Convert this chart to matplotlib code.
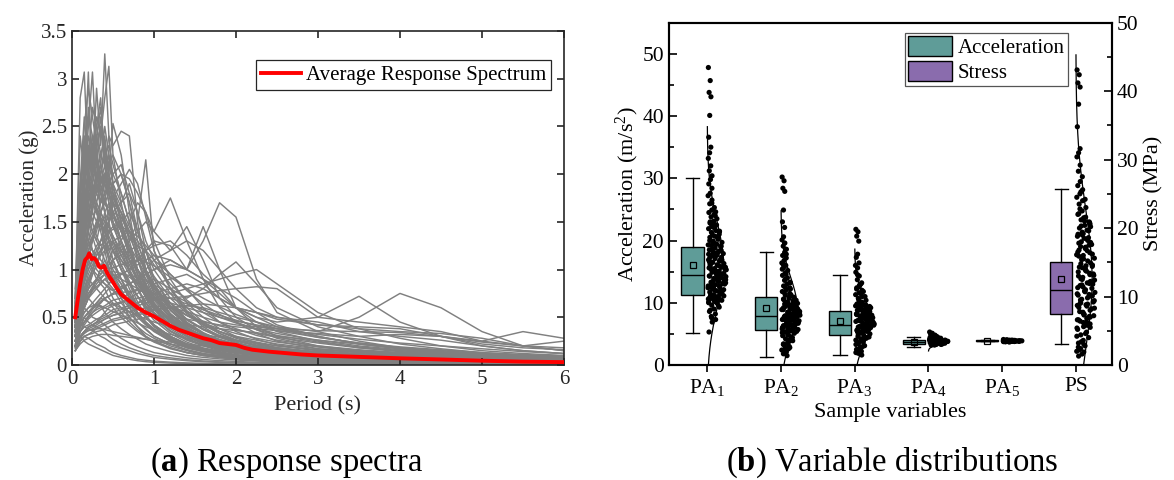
import numpy as np
import matplotlib
matplotlib.use("Agg")
import matplotlib.pyplot as plt
from matplotlib.patches import Patch

plt.rcParams['font.family'] = ['Liberation Serif', 'DejaVu Serif']
plt.rcParams['mathtext.fontset'] = 'custom'
plt.rcParams['mathtext.rm'] = 'Liberation Serif'
plt.rcParams['mathtext.it'] = 'Liberation Serif:italic'
plt.rcParams['mathtext.bf'] = 'Liberation Serif:bold'

# ---------------- (a) response spectra ----------------
periods = [0.04, 0.1, 0.15, 0.2, 0.25, 0.3, 0.35, 0.4, 0.45, 0.5, 0.6, 0.7, 0.8, 0.9, 1.0,
           1.2, 1.4, 1.6, 1.8, 2.0, 2.25, 2.5, 3.0, 3.5, 4.0, 4.5, 5.0, 5.5, 6.0]

spectra = [
    [0.5,1.2,2.1,3.07,1.8,1.6,1.4,1.2,1.0,0.9,0.7,0.5,0.4,0.3,0.25,0.18,0.13,0.1,0.08,0.06,0.05,0.04,0.03,0.02,0.015,0.012,0.01,0.008,0.007],
    [0.6,2.8,3.07,2.0,1.9,2.2,1.5,1.3,1.1,0.95,0.8,0.6,0.45,0.38,0.3,0.22,0.16,0.12,0.1,0.08,0.06,0.05,0.04,0.03,0.02,0.016,0.013,0.01,0.009],
    [0.55,1.5,1.9,2.5,3.07,2.2,1.8,1.6,1.3,1.1,0.9,0.7,0.55,0.45,0.36,0.25,0.18,0.14,0.11,0.09,0.07,0.06,0.045,0.035,0.027,0.021,0.017,0.014,0.012],
    [0.7,1.8,2.4,2.2,2.0,2.9,2.3,3.26,2.4,1.9,1.5,1.1,0.9,0.7,0.55,0.4,0.3,0.22,0.17,0.14,0.11,0.09,0.07,0.05,0.04,0.03,0.025,0.02,0.018],
    [0.6,1.3,1.7,2.0,2.3,2.6,2.4,2.8,3.13,2.2,1.7,1.3,1.0,0.8,0.62,0.45,0.33,0.25,0.19,0.15,0.12,0.1,0.07,0.055,0.045,0.035,0.03,0.025,0.02],
    [0.45,1.1,1.6,1.9,1.7,2.1,2.6,2.3,2.0,2.53,2.2,1.6,1.1,0.85,0.65,0.46,0.34,0.26,0.2,0.16,0.12,0.1,0.075,0.06,0.045,0.036,0.03,0.025,0.021],
    [0.5,1.0,1.3,1.6,1.8,2.0,2.2,2.1,2.4,2.3,2.45,2.4,1.5,1.0,0.75,0.52,0.38,0.29,0.22,0.17,0.13,0.11,0.08,0.06,0.05,0.04,0.032,0.027,0.022],
    [0.4,0.9,1.4,1.7,2.0,2.2,1.9,2.0,1.8,1.7,1.6,1.3,1.5,2.15,1.2,0.8,0.55,0.4,0.3,0.24,0.18,0.14,0.1,0.08,0.06,0.05,0.04,0.033,0.028],
    [0.5,1.4,1.8,2.2,2.0,1.8,1.9,1.7,1.6,1.5,1.3,1.1,0.9,0.75,0.6,0.42,0.3,0.23,0.18,0.14,0.11,0.09,0.065,0.05,0.04,0.03,0.025,0.02,0.017],
    [0.35,0.8,1.1,1.4,1.6,1.5,1.7,1.9,1.8,1.6,1.4,1.2,1.0,0.8,0.65,0.45,0.33,0.25,0.19,0.15,0.12,0.1,0.07,0.055,0.044,0.035,0.029,0.024,0.02],
    [0.6,1.6,2.0,1.8,1.7,1.6,1.5,1.4,1.2,1.1,0.9,0.75,0.6,0.5,0.42,0.3,0.22,0.17,0.13,0.1,0.08,0.065,0.05,0.037,0.03,0.024,0.02,0.016,0.014],
    [0.3,0.7,1.0,1.2,1.3,1.5,1.4,1.6,1.5,1.7,1.6,1.4,1.2,1.0,0.85,0.6,0.44,0.33,0.25,0.2,0.15,0.12,0.09,0.07,0.055,0.044,0.036,0.03,0.025],
    [0.45,1.2,1.5,1.6,1.4,1.3,1.2,1.25,1.1,1.0,0.85,0.7,0.55,0.45,0.38,0.27,0.2,0.15,0.12,0.095,0.075,0.06,0.045,0.035,0.027,0.022,0.018,0.015,0.012],
    [0.5,1.0,1.2,1.4,1.2,1.1,1.0,0.95,0.9,0.85,0.7,0.6,0.5,0.42,0.35,0.25,0.18,0.14,0.11,0.09,0.07,0.055,0.04,0.03,0.025,0.02,0.016,0.013,0.011],
    [0.4,0.9,1.3,1.1,1.0,0.95,0.9,0.85,0.8,0.7,0.6,0.5,0.4,0.33,0.28,0.2,0.15,0.11,0.09,0.07,0.055,0.045,0.033,0.025,0.02,0.016,0.013,0.011,0.009],
    [0.55,1.3,1.7,1.5,1.9,1.7,1.6,1.5,1.3,1.2,1.0,0.8,0.62,0.5,0.4,0.28,0.2,0.15,0.12,0.1,0.08,0.065,0.048,0.036,0.028,0.022,0.018,0.015,0.013],
    [0.65,1.7,2.3,2.6,2.4,2.1,2.0,2.2,2.0,1.8,1.5,1.2,0.95,0.75,0.6,0.42,0.3,0.23,0.18,0.14,0.11,0.09,0.066,0.05,0.04,0.032,0.026,0.022,0.018],
    [0.5,1.1,1.5,1.9,2.2,2.4,2.1,1.9,2.0,1.8,1.6,1.4,1.1,0.9,0.72,0.5,0.36,0.27,0.21,0.17,0.13,0.1,0.075,0.057,0.045,0.036,0.03,0.025,0.021],
    [0.4,0.75,0.95,1.1,1.0,0.9,0.85,0.8,0.7,0.65,0.55,0.45,0.37,0.3,0.25,0.18,0.13,0.1,0.08,0.065,0.05,0.04,0.03,0.022,0.018,0.014,0.012,0.01,0.008],
    [0.3,0.6,0.8,0.9,0.85,0.8,0.75,0.7,0.65,0.6,0.5,0.42,0.35,0.29,0.24,0.17,0.13,0.1,0.08,0.063,0.05,0.04,0.03,0.023,0.018,0.014,0.012,0.01,0.008],
    [0.5,1.9,2.6,2.1,2.3,1.9,1.7,1.8,1.5,1.3,1.05,0.85,0.66,0.52,0.42,0.3,0.22,0.17,0.13,0.1,0.08,0.066,0.05,0.037,0.029,0.023,0.019,0.016,0.013],
    [0.7,2.4,2.0,2.7,2.2,2.5,2.8,2.1,1.8,1.6,1.3,1.0,0.8,0.62,0.5,0.35,0.26,0.2,0.15,0.12,0.095,0.077,0.057,0.043,0.034,0.027,0.022,0.018,0.015],
    [0.45,1.3,1.6,2.0,2.3,1.9,2.1,2.5,2.2,2.0,1.8,1.5,1.2,0.95,0.75,0.53,0.39,0.3,0.23,0.18,0.14,0.11,0.08,0.062,0.049,0.039,0.032,0.027,0.022],
    [0.6,1.5,1.9,2.3,2.1,2.4,2.7,2.2,1.9,1.7,1.45,1.2,0.95,0.75,0.6,0.42,0.31,0.24,0.18,0.14,0.11,0.09,0.066,0.05,0.039,0.031,0.026,0.021,0.018],
    [0.4,1.0,1.4,1.8,1.6,1.9,1.7,2.0,2.2,1.9,1.7,1.9,1.6,1.2,0.9,0.62,0.45,0.34,0.26,0.2,0.16,0.13,0.09,0.07,0.055,0.044,0.036,0.03,0.025],
    [0.55,1.2,1.6,1.4,1.7,2.0,1.8,1.6,1.7,1.5,1.3,1.1,0.9,0.72,0.58,0.41,0.3,0.23,0.18,0.14,0.11,0.09,0.065,0.05,0.04,0.032,0.026,0.021,0.018],
    [0.35,0.9,1.2,1.5,1.4,1.3,1.5,1.3,1.2,1.3,1.1,0.95,0.8,0.65,0.53,0.38,0.28,0.21,0.16,0.13,0.1,0.08,0.06,0.045,0.035,0.028,0.023,0.019,0.016],
    [0.5,1.1,1.4,1.3,1.2,1.15,1.2,1.1,1.0,0.95,0.85,0.72,0.6,0.5,0.42,0.3,0.22,0.17,0.13,0.1,0.08,0.065,0.048,0.036,0.028,0.022,0.018,0.015,0.012],
    [0.45,0.95,1.15,1.25,1.35,1.2,1.1,1.05,1.0,0.92,0.78,0.65,0.54,0.45,0.37,0.27,0.2,0.15,0.12,0.095,0.075,0.06,0.044,0.033,0.026,0.021,0.017,0.014,0.012],
    [0.3,0.65,0.85,1.0,1.1,1.0,0.95,1.0,0.9,0.85,0.75,0.63,0.52,0.43,0.36,0.26,0.19,0.15,0.12,0.094,0.074,0.06,0.044,0.033,0.026,0.021,0.017,0.014,0.012],
    [0.55,1.4,1.8,1.6,1.5,1.35,1.25,1.3,1.15,1.05,0.9,0.75,0.62,0.5,0.41,0.29,0.21,0.16,0.13,0.1,0.08,0.064,0.047,0.036,0.028,0.022,0.018,0.015,0.013],
    [0.4,0.8,1.05,1.3,1.5,1.65,1.5,1.4,1.45,1.35,1.2,1.05,0.9,0.75,0.62,0.45,0.33,0.25,0.19,0.15,0.12,0.1,0.072,0.055,0.043,0.034,0.028,0.023,0.02],
    [0.8,1.6,1.4,1.3,1.2,1.1,1.0,0.95,0.85,0.8,0.65,0.55,0.45,0.37,0.3,0.22,0.16,0.12,0.095,0.075,0.06,0.048,0.035,0.026,0.02,0.016,0.013,0.011,0.009],
    [0.2,0.45,0.65,0.8,0.95,1.05,1.2,1.35,1.5,1.6,1.55,1.4,1.2,1.0,0.82,0.58,0.43,0.33,0.25,0.2,0.16,0.13,0.094,0.072,0.056,0.045,0.037,0.031,0.026],
    [0.35,0.7,0.9,1.1,1.3,1.45,1.6,1.75,1.9,2.0,2.1,1.8,1.4,1.1,0.85,0.58,0.42,0.32,0.24,0.19,0.15,0.12,0.088,0.067,0.052,0.042,0.034,0.028,0.024],
    [0.25,0.5,0.7,0.85,1.0,1.15,1.3,1.45,1.6,1.75,1.9,2.05,1.9,1.55,1.2,0.8,0.57,0.43,0.33,0.26,0.2,0.16,0.11,0.085,0.066,0.053,0.043,0.036,0.03],
    [0.5,1.2,1.5,1.7,1.9,1.8,2.0,2.3,2.1,1.9,2.0,1.7,1.3,1.0,0.78,0.54,0.4,0.3,0.23,0.18,0.14,0.11,0.08,0.062,0.048,0.038,0.031,0.026,0.022],
    [0.6,1.35,1.7,1.95,1.8,1.65,1.55,1.45,1.35,1.25,1.05,0.88,0.72,0.58,0.47,0.33,0.24,0.18,0.14,0.11,0.087,0.07,0.051,0.039,0.03,0.024,0.02,0.016,0.014],
    [0.2,0.3,0.25,0.22,0.2,0.18,0.16,0.14,0.12,0.1,0.08,0.06,0.045,0.035,0.028,0.02,0.015,0.011,0.009,0.007,0.006,0.005,0.004,0.003,0.002,0.002,0.002,0.001,0.001],
    [0.15,0.25,0.3,0.28,0.25,0.22,0.2,0.18,0.15,0.13,0.1,0.08,0.06,0.05,0.04,0.03,0.022,0.017,0.013,0.01,0.008,0.006,0.005,0.004,0.003,0.002,0.002,0.002,0.001],
    [0.25,0.4,0.5,0.45,0.42,0.4,0.38,0.35,0.3,0.27,0.22,0.18,0.15,0.12,0.1,0.075,0.055,0.042,0.033,0.026,0.02,0.016,0.012,0.009,0.007,0.006,0.005,0.004,0.003],
    [0.3,0.55,0.6,0.55,0.5,0.48,0.45,0.42,0.38,0.34,0.28,0.23,0.19,0.16,0.13,0.1,0.075,0.058,0.046,0.037,0.029,0.023,0.017,0.013,0.01,0.008,0.007,0.006,0.005],
    [0.35,0.6,0.75,0.7,0.65,0.6,0.62,0.55,0.5,0.45,0.38,0.32,0.27,0.22,0.19,0.14,0.1,0.08,0.064,0.052,0.041,0.033,0.024,0.018,0.014,0.011,0.009,0.008,0.007],
    [0.22,0.35,0.4,0.38,0.36,0.33,0.3,0.28,0.25,0.22,0.18,0.15,0.12,0.1,0.08,0.06,0.045,0.034,0.027,0.021,0.017,0.013,0.01,0.008,0.006,0.005,0.004,0.003,0.003],
    [0.4,0.7,0.9,1.0,1.1,1.2,1.3,1.4,1.5,1.6,1.7,1.8,1.6,1.3,1.1,0.8,0.6,0.45,0.35,0.28,0.22,0.18,0.13,0.1,0.08,0.065,0.055,0.045,0.04],
    [0.35,0.6,0.8,0.9,1.0,1.1,1.0,1.2,1.3,1.2,1.3,1.5,1.7,1.6,1.4,1.75,1.3,0.9,0.6,0.45,0.33,0.25,0.17,0.13,0.1,0.08,0.065,0.055,0.045],
    [0.3,0.5,0.6,0.7,0.8,0.9,1.0,1.1,1.0,1.1,1.2,1.3,1.4,1.5,1.4,1.2,1.45,1.1,0.7,0.5,0.37,0.28,0.19,0.14,0.11,0.09,0.072,0.06,0.05],
    [0.3,0.55,0.7,0.8,0.85,0.9,1.0,0.95,1.1,1.2,1.1,1.0,1.1,1.2,1.3,1.25,1.0,1.45,1.0,0.6,0.4,0.3,0.2,0.15,0.12,0.09,0.075,0.06,0.05],
    [0.25,0.45,0.55,0.6,0.65,0.7,0.75,0.8,0.85,0.9,0.95,1.0,1.1,1.2,1.25,1.3,1.15,0.95,0.8,0.6,0.45,0.35,0.25,0.18,0.14,0.11,0.09,0.075,0.065],
    [0.35,0.6,0.75,0.85,0.95,1.05,1.15,1.3,1.4,1.45,1.5,1.6,1.4,1.2,1.0,0.75,0.55,0.42,0.33,0.26,0.2,0.16,0.12,0.09,0.07,0.056,0.046,0.038,0.032],
    [0.3,0.5,0.65,0.75,0.8,0.9,0.95,1.0,1.05,1.1,1.15,1.2,1.25,1.2,1.1,0.95,0.8,0.6,0.45,0.35,0.27,0.21,0.15,0.11,0.09,0.07,0.058,0.048,0.04],
    [0.4,0.8,1.0,1.2,1.3,1.4,1.6,1.7,1.8,1.9,2.0,1.95,1.8,1.6,1.3,0.9,0.65,0.5,0.38,0.3,0.23,0.18,0.13,0.1,0.08,0.062,0.05,0.042,0.036],
    [0.3,0.5,0.6,0.7,0.75,0.8,0.85,0.9,0.85,0.9,0.95,1.0,1.05,1.1,1.15,1.1,1.0,0.9,0.8,0.7,0.55,0.42,0.3,0.22,0.17,0.13,0.1,0.085,0.07],
    [0.25,0.4,0.5,0.55,0.6,0.65,0.7,0.75,0.8,0.78,0.82,0.85,0.9,0.95,1.0,1.05,1.0,0.9,0.75,0.6,0.5,0.4,0.3,0.22,0.17,0.13,0.1,0.08,0.065],
    [0.5,1.0,1.3,1.6,1.8,1.7,1.9,2.0,2.1,2.2,2.0,1.7,1.4,1.1,0.9,0.65,0.48,0.37,0.29,0.23,0.18,0.14,0.1,0.076,0.06,0.048,0.04,0.033,0.028],
    [0.3,0.45,0.5,0.55,0.6,0.62,0.65,0.7,0.72,0.75,0.8,0.85,0.9,0.95,1.0,1.1,1.0,1.3,1.7,1.55,0.9,0.55,0.35,0.25,0.18,0.14,0.11,0.09,0.07],
    [0.25,0.4,0.45,0.5,0.55,0.58,0.6,0.62,0.65,0.68,0.7,0.75,0.8,0.85,0.9,0.8,0.7,0.8,0.95,1.08,0.85,0.6,0.4,0.3,0.22,0.17,0.13,0.1,0.08],
    [0.2,0.35,0.4,0.42,0.45,0.48,0.5,0.52,0.55,0.58,0.6,0.62,0.65,0.68,0.7,0.75,0.8,0.85,0.9,0.95,1.0,0.85,0.55,0.38,0.28,0.2,0.15,0.12,0.1],
    [0.2,0.3,0.35,0.4,0.42,0.45,0.48,0.5,0.52,0.55,0.58,0.6,0.62,0.65,0.68,0.7,0.72,0.75,0.78,0.8,0.82,0.8,0.5,0.72,0.45,0.3,0.2,0.15,0.12],
    [0.15,0.25,0.3,0.32,0.35,0.38,0.4,0.42,0.44,0.46,0.48,0.5,0.52,0.55,0.58,0.6,0.62,0.6,0.55,0.5,0.45,0.4,0.35,0.5,0.75,0.6,0.35,0.2,0.15],
    [0.15,0.25,0.3,0.32,0.33,0.35,0.36,0.38,0.4,0.42,0.44,0.46,0.48,0.5,0.52,0.5,0.48,0.45,0.42,0.4,0.38,0.36,0.33,0.3,0.32,0.3,0.25,0.35,0.28],
    [0.2,0.3,0.35,0.4,0.42,0.45,0.5,0.55,0.6,0.62,0.65,0.7,0.75,0.8,0.85,0.9,0.95,0.85,0.7,0.6,0.5,0.45,0.5,0.45,0.4,0.35,0.25,0.2,0.25],
    [0.25,0.4,0.45,0.5,0.55,0.6,0.65,0.7,0.72,0.75,0.8,0.85,0.9,1.0,1.1,1.2,1.3,1.2,1.0,0.8,0.6,0.5,0.45,0.35,0.3,0.26,0.2,0.15,0.12],
    [0.2,0.3,0.35,0.38,0.4,0.42,0.45,0.48,0.5,0.52,0.55,0.6,0.65,0.7,0.75,0.8,0.85,0.8,0.7,0.6,0.55,0.5,0.42,0.38,0.35,0.33,0.28,0.2,0.15],
    [0.18,0.28,0.33,0.36,0.38,0.4,0.42,0.44,0.46,0.48,0.5,0.52,0.54,0.56,0.58,0.6,0.62,0.64,0.62,0.6,0.55,0.48,0.42,0.4,0.38,0.3,0.22,0.18,0.16],
    [0.25,0.4,0.5,0.55,0.6,0.65,0.7,0.68,0.66,0.64,0.6,0.56,0.52,0.48,0.45,0.4,0.36,0.32,0.29,0.26,0.23,0.2,0.16,0.13,0.11,0.09,0.075,0.065,0.055],
    [0.3,0.55,0.7,0.8,0.85,0.9,0.88,0.85,0.82,0.78,0.72,0.66,0.6,0.55,0.5,0.45,0.42,0.4,0.38,0.36,0.34,0.3,0.26,0.22,0.18,0.15,0.12,0.1,0.08],
    [0.2,0.35,0.42,0.48,0.52,0.55,0.58,0.6,0.62,0.64,0.66,0.68,0.7,0.72,0.7,0.65,0.6,0.55,0.5,0.46,0.42,0.38,0.32,0.27,0.23,0.2,0.17,0.14,0.12],
    [0.18,0.3,0.35,0.4,0.42,0.44,0.46,0.48,0.5,0.52,0.54,0.56,0.58,0.6,0.62,0.6,0.56,0.5,0.45,0.42,0.4,0.38,0.36,0.35,0.34,0.3,0.24,0.2,0.18],
    [0.35,0.8,1.1,1.3,1.4,1.5,1.45,1.4,1.3,1.2,1.0,0.85,0.72,0.62,0.54,0.42,0.34,0.28,0.24,0.2,0.17,0.15,0.12,0.1,0.085,0.07,0.06,0.05,0.045],
    [0.45,1.0,1.3,1.6,1.7,1.6,1.5,1.55,1.45,1.35,1.15,0.98,0.84,0.72,0.62,0.48,0.38,0.31,0.26,0.22,0.19,0.16,0.13,0.11,0.09,0.075,0.065,0.055,0.05],
    [0.3,0.6,0.8,0.95,1.05,1.15,1.2,1.25,1.3,1.28,1.2,1.1,1.0,0.9,0.8,0.65,0.52,0.42,0.35,0.3,0.26,0.22,0.17,0.14,0.12,0.1,0.085,0.075,0.065],
    [0.25,0.5,0.65,0.75,0.82,0.88,0.92,0.95,0.97,0.98,0.96,0.92,0.86,0.8,0.74,0.62,0.52,0.44,0.38,0.33,0.28,0.24,0.19,0.15,0.13,0.11,0.09,0.08,0.07],
    [0.55,1.5,2.2,2.4,2.0,2.3,1.9,2.1,1.8,1.6,1.3,1.1,0.9,0.75,0.63,0.46,0.35,0.28,0.23,0.19,0.16,0.13,0.1,0.08,0.066,0.055,0.046,0.04,0.035],
    [0.6,1.7,2.5,2.9,2.6,2.3,2.5,2.1,1.9,1.7,1.4,1.15,0.95,0.78,0.65,0.47,0.36,0.28,0.22,0.18,0.15,0.12,0.09,0.072,0.058,0.048,0.04,0.034,0.029],
    [0.5,1.3,1.9,2.2,2.7,2.5,2.2,2.4,2.0,1.8,1.5,1.25,1.0,0.82,0.68,0.49,0.37,0.29,0.23,0.19,0.15,0.12,0.09,0.07,0.056,0.046,0.038,0.032,0.027],
    [0.4,1.0,1.5,1.8,2.1,2.3,2.5,2.2,2.3,2.1,1.8,1.5,1.2,0.98,0.8,0.57,0.42,0.33,0.26,0.21,0.17,0.14,0.1,0.08,0.064,0.052,0.043,0.036,0.031],
    [0.45,1.2,1.7,2.0,1.8,1.9,2.1,1.9,1.7,1.6,1.4,1.2,1.0,0.84,0.7,0.5,0.38,0.3,0.24,0.2,0.16,0.13,0.1,0.078,0.062,0.05,0.042,0.035,0.03],
    [0.3,0.75,1.0,1.2,1.35,1.5,1.6,1.7,1.65,1.55,1.4,1.25,1.1,0.95,0.82,0.62,0.48,0.38,0.31,0.26,0.21,0.18,0.14,0.11,0.09,0.075,0.063,0.054,0.047],
    [0.2,0.3,0.35,0.36,0.37,0.38,0.38,0.37,0.36,0.35,0.33,0.31,0.29,0.27,0.25,0.22,0.19,0.17,0.15,0.13,0.12,0.1,0.085,0.07,0.06,0.05,0.044,0.039,0.035],
    [0.3,0.5,0.55,0.6,0.62,0.63,0.62,0.6,0.58,0.56,0.52,0.48,0.44,0.4,0.37,0.32,0.28,0.25,0.22,0.2,0.18,0.16,0.13,0.11,0.095,0.082,0.072,0.064,0.057],
    [0.4,0.9,1.1,1.2,1.15,1.1,1.05,1.0,0.98,0.95,0.9,0.85,0.8,0.75,0.7,0.6,0.52,0.46,0.41,0.37,0.33,0.29,0.23,0.18,0.15,0.12,0.1,0.085,0.075],
    [0.35,0.7,0.9,1.05,1.15,1.25,1.3,1.35,1.4,1.42,1.45,1.4,1.3,1.18,1.05,0.85,0.68,0.55,0.45,0.38,0.31,0.26,0.2,0.16,0.13,0.11,0.09,0.078,0.068],
    [0.5,1.1,1.4,1.6,1.75,1.85,1.95,2.0,1.95,1.85,1.65,1.45,1.25,1.08,0.93,0.7,0.54,0.43,0.35,0.29,0.24,0.2,0.15,0.12,0.1,0.082,0.07,0.06,0.052],
    [0.7,1.9,2.3,2.0,1.7,1.6,1.5,1.4,1.3,1.2,1.0,0.85,0.72,0.6,0.5,0.36,0.27,0.21,0.17,0.14,0.11,0.09,0.07,0.055,0.045,0.037,0.031,0.026,0.022],
    [0.65,1.6,2.0,2.3,2.1,1.9,1.8,1.7,1.6,1.45,1.25,1.05,0.88,0.74,0.62,0.45,0.34,0.27,0.22,0.18,0.15,0.12,0.09,0.072,0.058,0.048,0.04,0.034,0.029],
    [0.4,0.85,1.2,1.45,1.65,1.8,1.7,1.8,1.9,1.75,1.55,1.35,1.15,0.98,0.84,0.62,0.47,0.37,0.3,0.25,0.2,0.17,0.13,0.1,0.082,0.067,0.056,0.047,0.04],
    [0.3,0.55,0.75,0.9,1.0,1.1,1.15,1.2,1.25,1.3,1.35,1.4,1.35,1.25,1.15,0.95,0.78,0.64,0.53,0.45,0.37,0.31,0.24,0.19,0.15,0.12,0.1,0.085,0.075],
    [0.25,0.45,0.6,0.7,0.78,0.85,0.9,0.95,1.0,1.02,1.05,1.08,1.1,1.08,1.04,0.92,0.8,0.7,0.61,0.53,0.45,0.38,0.29,0.23,0.18,0.15,0.12,0.1,0.088],
    [0.2,0.35,0.45,0.52,0.58,0.63,0.67,0.7,0.72,0.74,0.76,0.77,0.78,0.77,0.75,0.7,0.64,0.58,0.52,0.47,0.41,0.36,0.29,0.23,0.19,0.16,0.13,0.11,0.095],
    [0.15,0.22,0.26,0.28,0.3,0.31,0.32,0.32,0.32,0.31,0.3,0.29,0.28,0.27,0.26,0.24,0.22,0.2,0.18,0.17,0.15,0.14,0.12,0.1,0.09,0.08,0.07,0.062,0.055],
    [0.5,1.2,1.6,1.9,2.2,2.0,1.8,2.0,1.7,1.5,1.2,0.98,0.8,0.66,0.55,0.4,0.3,0.24,0.19,0.16,0.13,0.11,0.08,0.064,0.052,0.042,0.035,0.03,0.026],
    [0.45,1.0,1.35,1.7,1.5,1.7,1.6,1.5,1.4,1.3,1.15,1.0,0.85,0.72,0.62,0.46,0.35,0.28,0.23,0.19,0.16,0.13,0.1,0.08,0.065,0.054,0.045,0.038,0.033],
    [0.35,0.55,0.65,0.72,0.78,0.82,0.86,0.9,0.92,0.94,0.95,0.94,0.92,0.88,0.84,0.75,0.66,0.58,0.5,0.44,0.38,0.33,0.26,0.2,0.16,0.13,0.11,0.09,0.08],
    [0.55,1.3,1.7,2.1,2.4,2.2,2.0,1.8,1.9,1.7,1.45,1.2,1.0,0.85,0.72,0.53,0.41,0.33,0.27,0.22,0.18,0.15,0.11,0.09,0.072,0.06,0.05,0.043,0.037],
]

avg_periods = [0.04,0.07,0.1,0.13,0.16,0.19,0.21,0.24,0.27,0.3,0.33,0.36,0.39,0.42,0.46,0.5,0.55,0.6,0.7,0.8,
               0.9,1.0,1.1,1.2,1.3,1.4,1.5,1.6,1.7,1.8,1.9,2.0,2.1,2.2,2.4,2.6,2.8,3.0,3.5,4.0,4.5,5.0,5.5,6.0]
avg_values = [0.50,0.68,0.85,1.00,1.10,1.13,1.17,1.11,1.12,1.09,1.03,1.02,1.04,0.98,0.92,0.87,0.80,0.74,0.67,0.60,
              0.55,0.51,0.46,0.41,0.37,0.34,0.31,0.28,0.26,0.23,0.22,0.21,0.18,0.16,0.14,0.125,0.11,0.10,0.085,0.07,
              0.058,0.045,0.035,0.03]

# ---------------- (b) variable distributions ----------------
var_labels = ['PA$_1$', 'PA$_2$', 'PA$_3$', 'PA$_4$', 'PA$_5$', 'PS']

pa1 = [47.8,45.7,43.8,43.1,40.1,36.6,35.0,34.1,33.2,32.0,31.2,30.4,29.8,29.1,28.4,27.6,27.2,26.5,25.9,25.3,
       24.9,24.5,24.2,23.8,23.5,23.1,22.8,22.5,22.2,21.9,21.6,21.3,21.0,20.7,20.5,20.2,19.9,19.7,19.4,19.2,
       19.0,18.8,18.5,18.3,18.1,17.9,17.7,17.5,17.3,17.1,16.9,16.7,16.5,16.3,16.1,15.9,15.7,15.5,15.3,15.1,
       14.9,14.7,14.5,14.3,14.1,13.9,13.7,13.5,13.3,13.1,12.9,12.7,12.5,12.3,12.1,11.9,11.7,11.5,11.3,11.1,
       10.9,10.7,10.5,10.3,10.1,9.9,9.6,9.3,9.0,8.6,8.2,7.8,7.3,6.9,5.3,
       18.4,17.6,16.6,15.8,15.0,14.2,13.4,12.6,11.8,11.0,10.6,10.2,12.2,13.0,14.8,16.2,17.0,19.6,21.4,22.6,
       12.8,11.4,10.8,15.6,14.0,13.6,
       10.4,10.9,11.2,11.6,12.0,12.4,12.7,13.1,13.5,13.9,14.3,14.6,15.2,15.7,16.0,16.4,16.9,17.4,17.8,18.2,
       18.6,19.1,19.5,20.0,20.4,20.9,21.5,22.0,23.0,24.0,10.2,10.7,11.5,12.3,13.2,14.4,15.4,16.7,18.0,19.3,
       11.0,12.5,13.8,15.0,17.2,20.6,22.3,24.6,26.0,8.8,9.5,7.6,10.0,11.8]
pa2 = [30.2,29.6,28.4,27.9,24.9,23.0,22.1,20.6,20.1,19.6,19.1,18.6,18.1,17.6,17.2,16.8,16.4,16.0,15.6,15.2,
       14.8,14.4,14.0,13.6,13.3,13.0,12.7,12.4,12.1,11.8,11.5,11.2,10.9,10.7,10.5,10.3,10.1,9.9,9.7,9.5,
       9.3,9.1,8.9,8.7,8.5,8.3,8.1,7.9,7.7,7.5,7.3,7.1,6.9,6.7,6.5,6.3,6.1,5.9,5.7,5.5,
       5.3,5.1,4.9,4.7,4.5,4.2,3.9,3.6,3.3,3.0,2.7,2.4,2.1,1.8,1.5,
       9.6,9.2,8.8,8.4,8.0,7.6,7.2,6.8,6.4,6.0,5.6,9.8,9.0,8.2,7.4,6.6,5.8,10.4,11.0,11.6,
       12.2,13.8,15.4,8.6,7.0,5.4,4.0,3.4,2.6,
       5.5,5.8,6.2,6.5,6.9,7.2,7.6,7.9,8.3,8.6,9.0,9.4,9.7,5.6,6.0,6.4,6.8,7.1,7.5,7.8,
       8.2,8.5,8.9,9.3,9.6,9.9,5.7,6.3,7.0,7.7,8.4,9.1,9.8,4.4,4.8,5.2,3.8,3.2,2.8,2.3,
       10.6,11.3,12.5,13.2,14.6,16.2,17.8]
pa3 = [21.8,21.4,20.7,19.9,17.8,17.3,16.4,15.6,14.9,14.3,13.7,13.2,12.8,12.4,12.0,11.6,11.3,11.0,10.7,10.4,
       10.1,9.8,9.6,9.4,9.2,9.0,8.8,8.6,8.4,8.2,8.0,7.8,7.6,7.4,7.2,7.0,6.8,6.6,6.4,6.2,
       6.0,5.8,5.6,5.4,5.2,5.0,4.8,4.6,4.4,4.2,4.0,3.7,3.4,3.1,2.8,2.5,2.2,1.9,1.6,
       9.7,9.3,8.9,8.5,8.1,7.7,7.3,6.9,6.5,6.1,5.7,5.3,9.5,8.7,7.9,7.1,6.3,5.5,8.3,7.5,
       6.7,5.9,4.9,4.3,3.9,3.3,2.9,10.6,11.8,12.6,
       5.3,5.7,6.0,6.4,6.8,7.1,7.5,7.9,8.2,8.6,9.0,9.4,5.5,5.9,6.3,6.6,7.0,7.3,7.7,8.0,
       8.4,8.8,9.2,9.6,4.5,4.1,3.6,3.1,2.6,2.0,1.8,10.3,11.0,11.5,12.2,13.0,14.5,16.0]
pa4 = [5.3,5.1,4.9,4.8,4.7,4.6,4.5,4.5,4.4,4.4,4.3,4.3,4.2,4.2,4.1,4.1,4.0,4.0,4.0,3.9,
       3.9,3.9,3.8,3.8,3.8,3.7,3.7,3.7,3.6,3.6,3.6,3.5,3.5,3.5,3.4,3.4,3.3,3.3,3.2,3.2,
       4.6,4.2,3.9,3.6,3.4,4.0,3.8,3.5,4.3,3.7,4.1,3.9,3.6,3.4,4.4,3.7,3.5,4.0,3.8,3.3]
pa5 = [4.1,4.05,4.0,4.0,3.98,3.96,3.95,3.94,3.93,3.92,3.91,3.9,3.9,3.89,3.88,3.87,3.86,3.85,3.85,3.84,
       3.83,3.82,3.81,3.8,3.8,3.79,3.78,3.77,3.76,3.75,3.74,3.72,3.7,3.9,3.85,3.95,3.8,3.88,3.92,3.83]
ps = [43.1,42.4,41.2,40.6,38.1,34.8,31.6,31.0,30.4,29.2,28.3,27.5,26.8,26.2,25.6,25.0,24.5,24.0,23.5,23.0,
      22.5,22.0,21.6,21.2,20.8,20.4,20.0,19.6,19.2,18.8,18.4,18.0,17.6,17.2,16.8,16.4,16.0,15.6,15.2,14.8,
      14.4,14.0,13.6,13.2,12.8,12.4,12.0,11.6,11.2,10.8,10.4,10.0,9.6,9.2,8.8,8.4,8.0,7.6,7.2,6.8,
      6.4,6.0,5.6,5.2,4.8,4.4,4.0,3.6,3.2,2.8,2.4,2.0,1.6,1.3,
      14.6,13.8,13.0,12.2,11.4,10.6,9.8,9.0,8.2,7.4,6.6,5.8,15.4,16.2,17.0,17.8,18.6,19.4,20.2,21.0,
      12.6,11.8,11.0,10.2,13.4,14.2,9.4,8.6,7.8,7.0,6.2,5.4,3.0,2.2,
      5.5,6.0,6.6,7.1,7.7,8.3,8.9,9.5,10.1,10.7,11.3,11.9,12.5,13.1,13.7,14.3,14.9,15.5,16.1,16.7,
      17.3,17.9,18.5,19.1,19.7,20.3,20.9,21.5,22.1,5.9,7.3,8.7,10.3,11.7,13.3,14.5,15.9,17.5,19.0,20.6,
      6.3,9.1,12.1,14.1,16.5,18.2,22.8,24.2,25.3,2.6,1.9,3.4,4.2,4.6]

samples = [pa1, pa2, pa3, pa4, pa5, ps]

box_whislo = [5.1, 1.3, 1.55, 2.9, 3.8, 3.0]
box_q1 = [11.3, 5.6, 4.8, 3.4, 3.85, 7.5]
box_med = [14.4, 7.85, 6.4, 3.65, 3.9, 11.0]
box_q3 = [19.0, 10.95, 8.7, 3.95, 3.95, 15.1]
box_whishi = [30.1, 18.15, 14.4, 4.5, 4.0, 25.7]
box_mean = [16.05, 9.1, 7.1, 3.7, 3.9, 12.5]
fit_sd = [6.95, 4.9, 3.6, 0.45, 0.1, 10.25]

teal = '#5f9c98'
purple = '#8a6cad'
box_colors = [teal, teal, teal, teal, teal, purple]

# ---------------- figure ----------------
fig = plt.figure(figsize=(11.74, 4.8), dpi=100)
axA = fig.add_axes([0.0613, 0.2396, 0.4191, 0.6958])
axB = fig.add_axes([0.5698, 0.2396, 0.3774, 0.7131])
axB2 = axB.twinx()

TICKA = 15
LABA = 15
TICKB = 15.5
LABB = 16
dark = '#262626'

# ---- panel (a)
for row in spectra:
    n = min(len(periods), len(row))
    axA.plot(periods[:n], row[:n], color='#808080', lw=1.05, zorder=1)
axA.plot(avg_periods, avg_values, color='#ff0000', lw=2.8, zorder=3, label='Average Response Spectrum')
axA.set_xlim(0, 6)
axA.set_ylim(0, 3.5)
axA.set_xticks(range(0, 7))
axA.set_yticks(np.arange(0, 3.51, 0.5))
axA.yaxis.set_major_formatter(matplotlib.ticker.FormatStrFormatter('%g'))
axA.tick_params(direction='in', top=True, right=True, length=5, width=1.2,
                labelsize=TICKA, colors=dark, labelcolor=dark)
for s in axA.spines.values():
    s.set_color(dark)
    s.set_linewidth(1.2)
axA.set_xlabel('Period (s)', fontsize=LABA + 1, color=dark, labelpad=5)
axA.set_ylabel('Acceleration (g)', fontsize=LABA, color=dark, labelpad=1)
legA = axA.legend(loc='upper right', bbox_to_anchor=(0.974, 0.913), fontsize=15,
                  frameon=True, fancybox=False, edgecolor=dark, framealpha=1,
                  handlelength=1.9, handletextpad=0.25, borderpad=0.25, borderaxespad=0)
legA.get_frame().set_linewidth(0.9)

# ---- panel (b)
def kde(vals, grid, bw):
    v = np.asarray(vals)[:, None]
    return np.exp(-0.5 * ((grid[None, :] - v) / bw) ** 2).sum(axis=0)

positions = np.arange(1, 7)
for i, (vals, pos) in enumerate(zip(samples, positions)):
    ax = axB2 if i == 5 else axB
    stats = [dict(med=box_med[i], q1=box_q1[i], q3=box_q3[i], whislo=box_whislo[i],
                  whishi=box_whishi[i], mean=box_mean[i], fliers=[])]
    ax.bxp(stats, positions=[pos - 0.2], widths=0.3, patch_artist=True, showmeans=True,
           capwidths=0.18, manage_ticks=False,
           boxprops=dict(facecolor=box_colors[i], edgecolor='black', linewidth=1.0),
           medianprops=dict(color='black', linewidth=1.0),
           whiskerprops=dict(color='black', linewidth=1.0),
           capprops=dict(color='black', linewidth=1.0),
           meanprops=dict(marker='s', markerfacecolor='none', markeredgecolor='black',
                          markersize=4, markeredgewidth=0.9))
    vals_a = np.asarray(vals, dtype=float)
    sd = np.std(vals_a)
    bw = max(sd * 0.35, 0.05)
    dens = kde(vals_a, vals_a, bw)
    width = 0.03 + 0.23 * dens / dens.max()
    u = (np.arange(len(vals_a)) * 0.6180339887 + 0.13) % 1.0
    ax.scatter(pos + 0.01 + u * width, vals_a, s=14, color='black', edgecolors='none', zorder=4)
    mu, sg = box_mean[i], fit_sd[i]
    yy = np.linspace(max(0, mu - 3.2 * sg), mu + 3.2 * sg, 200)
    xx = pos + 0.22 * np.exp(-0.5 * ((yy - mu) / sg) ** 2)
    ax.plot(xx, yy, color='black', lw=0.9, zorder=3)

axB.set_xlim(0.48, 6.49)
axB.set_ylim(0, 55)
axB2.set_ylim(0, 50)
axB.set_xticks(positions)
axB.set_xticklabels(var_labels)
axB.set_yticks(range(0, 51, 10))
axB.set_yticks(range(5, 55, 10), minor=True)
axB2.set_yticks(range(0, 51, 10))
axB2.set_yticks(range(5, 50, 10), minor=True)
axB.tick_params(axis='y', which='major', direction='in', length=6, width=1.2, labelsize=TICKB)
axB.tick_params(axis='y', which='minor', direction='in', length=3.5, width=1.2)
axB.tick_params(axis='x', which='major', direction='out', length=5, width=1.2, labelsize=TICKB, pad=4)
axB.tick_params(axis='x', which='minor', bottom=False)
axB2.tick_params(axis='y', which='major', direction='in', length=6, width=1.2, labelsize=TICKB)
axB2.tick_params(axis='y', which='minor', direction='in', length=3.5, width=1.2)
for a in (axB, axB2):
    for s in a.spines.values():
        s.set_color('black')
        s.set_linewidth(1.5)
axB.set_xlabel('Sample variables', fontsize=LABB, labelpad=3)
axB.set_ylabel('Acceleration (m/s$^2$)', fontsize=LABB, labelpad=1)
axB2.set_ylabel('Stress (MPa)', fontsize=LABB, labelpad=4)

handles = [Patch(facecolor=teal, edgecolor='black', linewidth=1.0, label='Acceleration'),
           Patch(facecolor=purple, edgecolor='black', linewidth=1.0, label='Stress')]
legB = axB2.legend(handles=handles, loc='upper right', bbox_to_anchor=(0.9007, 0.97),
                   fontsize=15, frameon=True, fancybox=False, edgecolor='#555555',
                   framealpha=1, handlelength=2.1, handleheight=1.1, handletextpad=0.3,
                   labelspacing=0.12, borderpad=0.15, borderaxespad=0)
legB.get_frame().set_linewidth(0.9)

# captions
fig.text(0.244, 0.035, r'($\mathbf{a}$) Response spectra', ha='center', va='center', fontsize=23.5)
fig.text(0.760, 0.035, r'($\mathbf{b}$) Variable distributions', ha='center', va='center', fontsize=23.5)

fig.savefig('out.png', dpi=100)
